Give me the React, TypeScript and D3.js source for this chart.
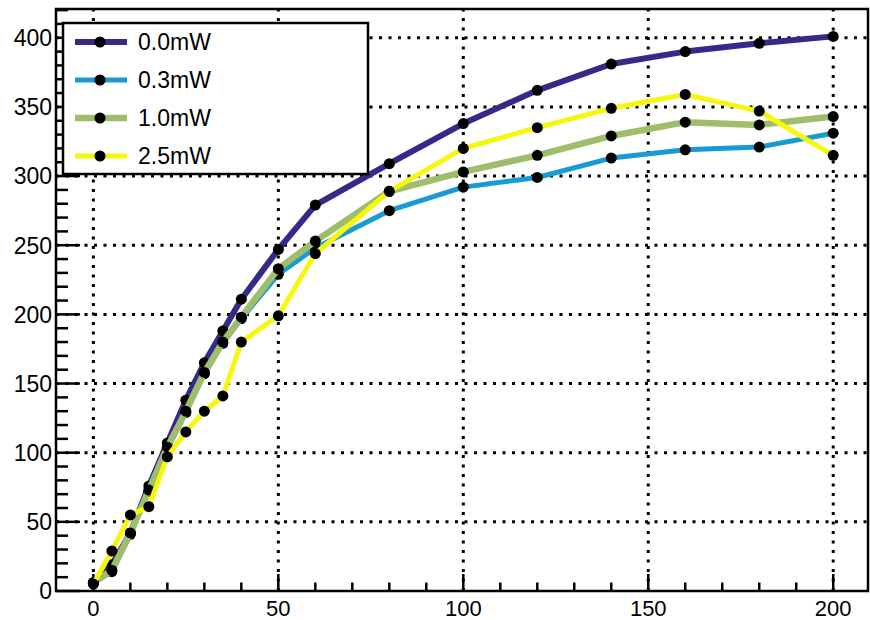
import React from "react";
import * as d3 from "d3";

const xValues = [0, 5, 10, 15, 20, 25, 30, 35, 40, 50, 60, 80, 100, 120, 140, 160, 180, 200];
const series00 = [6, 19, 42, 76, 107, 138, 165, 188, 211, 247, 279, 309, 338, 362, 381, 390, 396, 401];
const series03 = [6, 14, 41, 72, 103, 129, 157, 179, 197, 229, 248, 275, 292, 299, 313, 319, 321, 331];
const series10 = [6, 15, 42, 73, 104, 130, 158, 180, 198, 233, 253, 289, 303, 315, 329, 339, 337, 343];
const series25 = [5, 29, 55, 61, 97, 115, 130, 141, 180, 199, 244, 289, 320, 335, 349, 359, 347, 315];
const seriesNames = ["0.0mW", "0.3mW", "1.0mW", "2.5mW"];
const seriesColors = ["#352a87", "#189ad4", "#9fbe6c", "#f7f70c"];
const seriesWidths = [6, 5, 6.5, 5];
const xTicks = [0, 50, 100, 150, 200];
const yTicks = [0, 50, 100, 150, 200, 250, 300, 350, 400];

const W = 870;
const H = 620;
const left = 56;
const right = 868;
const top = 9;
const bottom = 591;

export default function App() {
  const x = d3.scaleLinear().domain([-10.1, 209.4]).range([left, right]);
  const y = d3.scaleLinear().domain([0, 420.8]).range([bottom, top]);
  const all = [series00, series03, series10, series25];
  const line = d3
    .line<[number, number]>()
    .x((d) => x(d[0]))
    .y((d) => y(d[1]));

  const xMinor = d3.range(-10, 210, 10).filter((v) => v % 50 !== 0 && x(v) > left + 1);
  const yMinor = d3.range(10, 421, 10).filter((v) => v % 50 !== 0);
  const font = "'Liberation Sans', Arial, Helvetica, sans-serif";
  const grid = { stroke: "#000", strokeWidth: 3, strokeDasharray: "3,6.5" };

  return (
    <svg
      width={W}
      height={H}
      style={{ position: "absolute", left: 0, top: 0, background: "#fff" }}
      fontFamily={font}
    >
      <rect x={0} y={0} width={W} height={H} fill="#fff" />
      {/* grid */}
      {xTicks.map((v) => (
        <line key={"gx" + v} x1={x(v)} x2={x(v)} y1={bottom} y2={top} {...grid} />
      ))}
      {yTicks
        .filter((v) => v > 0)
        .map((v) => (
          <line key={"gy" + v} x1={left} x2={right} y1={y(v)} y2={y(v)} {...grid} />
        ))}
      {/* ticks */}
      {xTicks.map((v) => (
        <line key={"tx" + v} x1={x(v)} x2={x(v)} y1={bottom} y2={bottom - 17} stroke="#000" strokeWidth={2.5} />
      ))}
      {xMinor.map((v) => (
        <line key={"mx" + v} x1={x(v)} x2={x(v)} y1={bottom} y2={bottom - 8.5} stroke="#000" strokeWidth={2.5} />
      ))}
      {yTicks.map((v) => (
        <line key={"ty" + v} x1={left} x2={left + 24} y1={y(v)} y2={y(v)} stroke="#000" strokeWidth={2.5} />
      ))}
      {yMinor.map((v) => (
        <line key={"my" + v} x1={left} x2={left + 12} y1={y(v)} y2={y(v)} stroke="#000" strokeWidth={2.5} />
      ))}
      {/* labels */}
      {xTicks.map((v) => (
        <text key={"lx" + v} x={x(v)} y={616} fontSize={22} textAnchor="middle" fill="#000">
          {v}
        </text>
      ))}
      {yTicks.map((v) => (
        <text key={"ly" + v} x={52} y={y(v)} dy="0.36em" fontSize={23} textAnchor="end" fill="#000">
          {v}
        </text>
      ))}
      {/* series */}
      {all.map((s, i) => {
        const pts = xValues.map((xv, j) => [xv, s[j]] as [number, number]);
        return (
          <g key={"s" + i}>
            <path
              d={line(pts) || ""}
              fill="none"
              stroke={seriesColors[i]}
              strokeWidth={seriesWidths[i]}
              strokeLinejoin="round"
            />
            {pts.map((p, j) => (
              <circle key={j} cx={x(p[0])} cy={y(p[1])} r={5.5} fill="#000" />
            ))}
          </g>
        );
      })}
      {/* frame */}
      <rect x={left} y={top} width={right - left} height={bottom - top} fill="none" stroke="#000" strokeWidth={2.5} />
      {/* legend */}
      <rect x={63} y={23} width={305} height={151} fill="#fff" stroke="#000" strokeWidth={2.5} />
      {seriesNames.map((n, i) => {
        const ry = 42 + i * 38;
        return (
          <g key={"lg" + i}>
            <line x1={75} x2={127} y1={ry} y2={ry} stroke={seriesColors[i]} strokeWidth={seriesWidths[i]} />
            <circle cx={100} cy={ry} r={5.5} fill="#000" />
            <text x={138} y={ry} dy="0.36em" fontSize={23} fill="#000">
              {n}
            </text>
          </g>
        );
      })}
    </svg>
  );
}
